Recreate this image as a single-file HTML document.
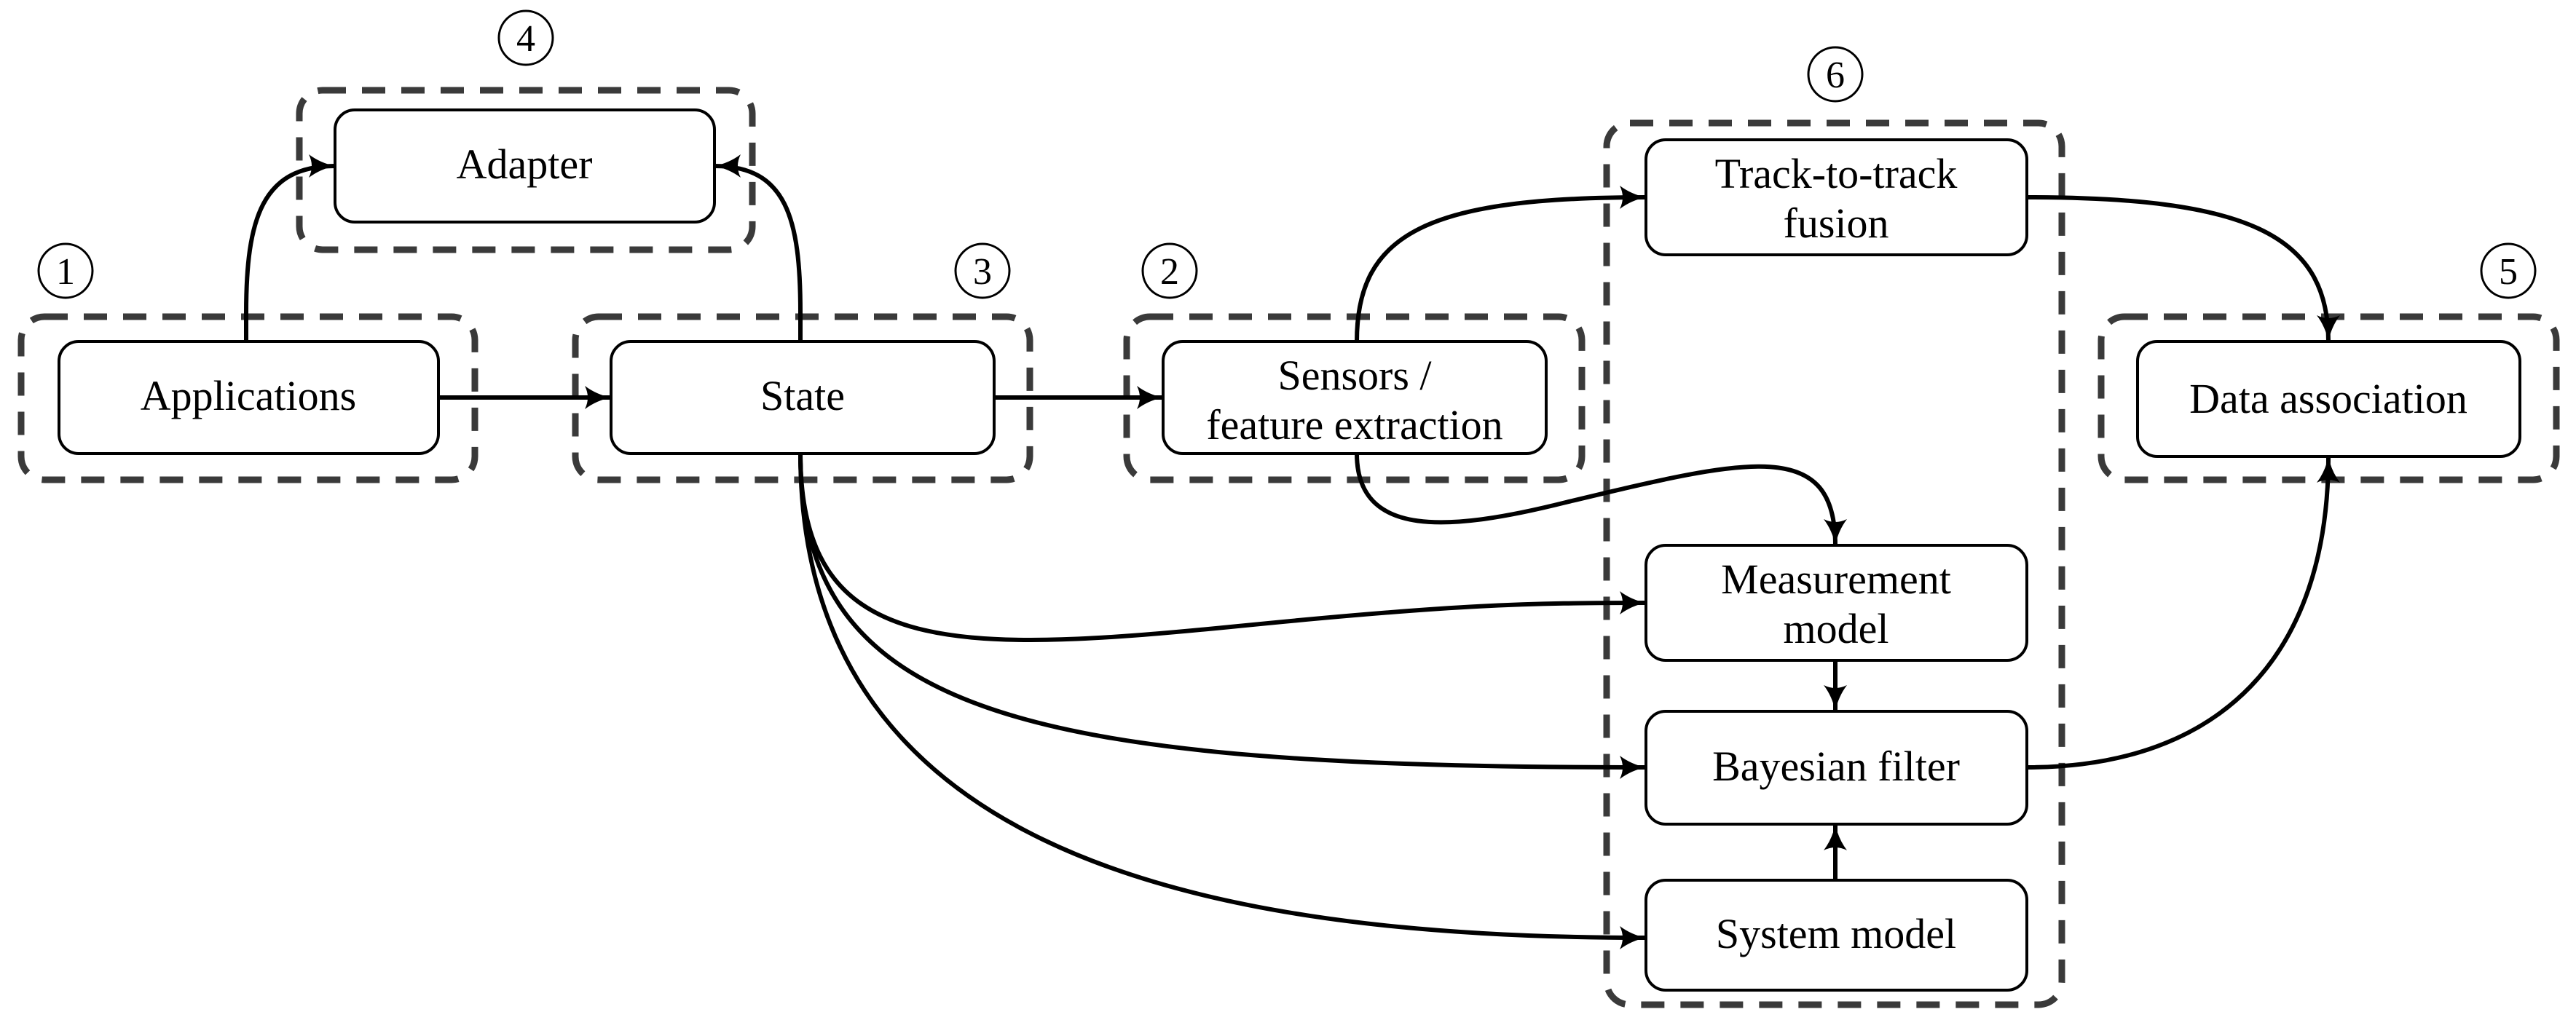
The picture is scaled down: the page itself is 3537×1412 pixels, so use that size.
<!DOCTYPE html>
<html><head><meta charset="utf-8"><style>
html,body{margin:0;padding:0;background:#fff;}
svg{display:block;}
</style></head><body>
<svg width="3537" height="1412" viewBox="0 0 3537 1412" xmlns="http://www.w3.org/2000/svg">
<defs>
<marker id="a" viewBox="0 0 40 40" refX="38" refY="20" markerWidth="40" markerHeight="40" markerUnits="userSpaceOnUse" orient="auto">
<path d="M2 4 Q18 16 38 20 Q18 24 2 36 Q10 20 2 4 Z" fill="#000"/>
</marker>
</defs>
<g fill="none" stroke="#3a3a3a" stroke-width="9" stroke-dasharray="32 22">
<rect x="411" y="124" width="622" height="219" rx="32"/>
<rect x="29" y="435" width="623" height="224" rx="32"/>
<rect x="790" y="435" width="624" height="224" rx="32"/>
<rect x="1547" y="435" width="625" height="224" rx="32"/>
<rect x="2206" y="169" width="625" height="1211" rx="32"/>
<rect x="2885" y="435" width="625" height="224" rx="32"/>
</g>
<g fill="none" stroke="#000" stroke-width="3">
<circle cx="722" cy="52" r="37"/>
<circle cx="90" cy="372" r="37"/>
<circle cx="1349" cy="372" r="37"/>
<circle cx="1606" cy="372" r="37"/>
<circle cx="2520" cy="102" r="37"/>
<circle cx="3444" cy="372" r="37"/>
</g>
<g text-anchor="middle" font-family="Liberation Serif, DejaVu Serif, serif" font-size="52" fill="#000">
<text x="722" y="70">4</text>
<text x="90" y="390">1</text>
<text x="1349" y="390">3</text>
<text x="1606" y="390">2</text>
<text x="2520" y="120">6</text>
<text x="3444" y="390">5</text>
</g>
<g fill="none" stroke="#000" stroke-width="6" marker-end="url(#a)">
<path d="M338 469 L338 430 C338 300 360 228 460 228"/>
<path d="M1099 469 L1099 430 C1099 300 1080 228 981 228"/>
<path d="M602 546 L839 546"/>
<path d="M1365 546 L1597 546"/>
<path d="M1863 469 C1863 320 1960 271 2260 271"/>
<path d="M1863 623 C1863 740 1990 730 2150 690 C2400 630 2520 600 2520 749"/>
<path d="M2783 271 C3080 271 3197 320 3197 469"/>
<path d="M2783 1054 C3050 1054 3197 900 3197 627"/>
<path d="M2520 907 L2520 977"/>
<path d="M2520 1209 L2520 1132"/>
<path d="M1099 623 C1099 900 1300 900 1700 860 C2000 830 2100 828 2260 828"/>
<path d="M1099 623 C1099 980 1400 1054 2260 1054"/>
<path d="M1099 623 C1099 1150 1600 1288 2260 1288"/>
</g>
<g fill="#fff" stroke="#000" stroke-width="4">
<rect x="460" y="151" width="521" height="154" rx="27"/>
<rect x="81" y="469" width="521" height="154" rx="27"/>
<rect x="839" y="469" width="526" height="154" rx="27"/>
<rect x="1597" y="469" width="526" height="154" rx="27"/>
<rect x="2260" y="192" width="523" height="158" rx="27"/>
<rect x="2935" y="469" width="525" height="158" rx="27"/>
<rect x="2260" y="749" width="523" height="158" rx="27"/>
<rect x="2260" y="977" width="523" height="155" rx="27"/>
<rect x="2260" y="1209" width="523" height="151" rx="27"/>
</g>
<g text-anchor="middle" font-family="Liberation Serif, DejaVu Serif, serif" font-size="58" fill="#000">
<text x="720" y="245">Adapter</text>
<text x="341" y="563">Applications</text>
<text x="1102" y="563">State</text>
<text x="1860" y="535">Sensors /</text>
<text x="1860" y="603">feature extraction</text>
<text x="2521" y="258">Track-to-track</text>
<text x="2521" y="326">fusion</text>
<text x="3197" y="567">Data association</text>
<text x="2521" y="815">Measurement</text>
<text x="2521" y="883">model</text>
<text x="2521" y="1072">Bayesian filter</text>
<text x="2521" y="1302">System model</text>
</g>
</svg>
</body></html>
